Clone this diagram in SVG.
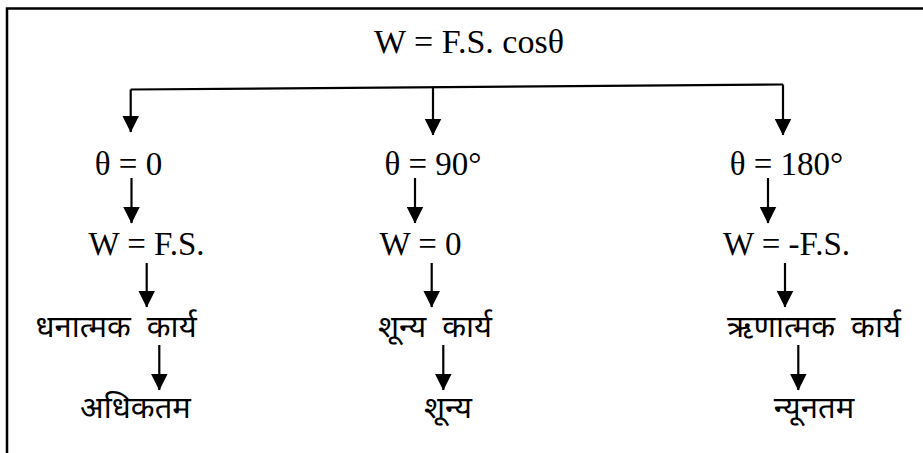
<svg xmlns="http://www.w3.org/2000/svg" width="923" height="453" viewBox="0 0 923 453">
<style>
.lt{font-family:"Liberation Serif","Times New Roman",serif;font-size:33px;fill:#000;text-anchor:middle}
.ti{font-size:34px}
.hi{font-family:"Noto Sans Devanagari","Lohit Devanagari","Mangal","Noto Sans",sans-serif;font-size:31px;font-weight:400;fill:#000;text-anchor:middle;word-spacing:8px}
.c{stroke:#000;stroke-width:2.2;fill:none}
</style>
<defs>
<marker id="a" markerUnits="userSpaceOnUse" markerWidth="17" markerHeight="17" viewBox="0 0 17 17" refX="16.5" refY="8.5" orient="auto">
<path d="M0,0 L17,8.5 L0,17 Z" fill="#000"/>
</marker>
</defs>
<rect width="923" height="453" fill="#fff"/>
<g id="frame" class="c"><path d="M7,453 V8.5 H923" stroke-width="2.5"/></g>
<g id="n-title"><text class="lt ti" x="469" y="53">W = F.S. cosθ</text></g>
<g id="n-t0"><text class="lt" x="128.5" y="175">θ = 0</text></g>
<g id="n-t90"><text class="lt" x="433" y="175">θ = 90°</text></g>
<g id="n-t180"><text class="lt" x="786.5" y="175">θ = 180°</text></g>
<g id="n-w1"><text class="lt" x="146.5" y="255">W = F.S.</text></g>
<g id="n-w2"><text class="lt" x="420.5" y="255">W = 0</text></g>
<g id="n-w3"><text class="lt" x="786.5" y="255">W = -F.S.</text></g>
<g id="n-k1"><text class="hi" x="116" y="337">धनात्मक कार्य</text></g>
<g id="n-k2"><text class="hi" x="435" y="337">शून्य कार्य</text></g>
<g id="n-k3"><text class="hi" x="814" y="337">ऋणात्मक कार्य</text></g>
<g id="n-r1"><text class="hi" x="135.5" y="418">अधिकतम</text></g>
<g id="n-r2"><text class="hi" x="448" y="418">शून्य</text></g>
<g id="n-r3"><text class="hi" x="814" y="418">न्यूनतम</text></g>
<g id="connectors" class="c">
<path d="M130.7,89.5 L783,84.5"/>
<path d="M130.7,89.5 V132" marker-end="url(#a)"/>
<path d="M433,87 V135" marker-end="url(#a)"/>
<path d="M783,84.5 V135" marker-end="url(#a)"/>
<path d="M131.5,178 V223" marker-end="url(#a)"/>
<path d="M415,178 V223" marker-end="url(#a)"/>
<path d="M768,178 V223" marker-end="url(#a)"/>
<path d="M146.7,263 V307" marker-end="url(#a)"/>
<path d="M431.7,263 V307" marker-end="url(#a)"/>
<path d="M785,263 V307" marker-end="url(#a)"/>
<path d="M159.3,345 V390" marker-end="url(#a)"/>
<path d="M443.3,345 V390" marker-end="url(#a)"/>
<path d="M798.3,345 V390" marker-end="url(#a)"/>
</g>
</svg>
